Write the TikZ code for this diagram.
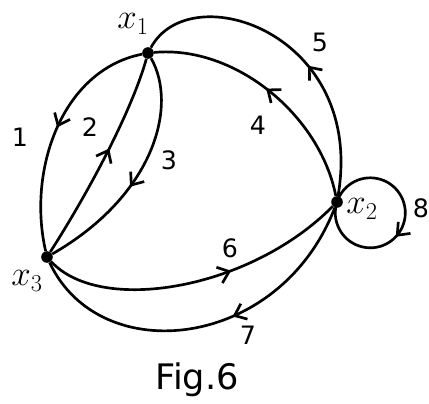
\documentclass[tikz,border=0pt]{standalone}
\usepackage{fontspec}
\setsansfont{DejaVu Sans}
\usetikzlibrary{arrows.meta, decorations.markings}

\begin{document}
\begin{tikzpicture}[
    x=0.025cm, y=0.025cm,
    vertex/.style={circle, fill=black, inner sep=0pt, minimum size=2.9mm},
    lbl/.style={font=\sffamily\fontsize{18}{20}\selectfont},
    vlbl/.style={font=\fontsize{27}{30}\selectfont},
    edge/.style={line width=1.9pt},
    midarrow/.style={postaction={decorate}, decoration={markings, mark=at position #1 with {\arrow{Straight Barb[length=2.6mm, width=4.2mm]}}}}
]
    \useasboundingbox (0,0) rectangle (429,403);

    \node[vertex] (x1) at (148,350) {};
    \node[vertex] (x2) at (337,201) {};
    \node[vertex] (x3) at (47,146) {};

    \node[vlbl] (l-x1) at (133,379) {$x_1$};
    \node[vlbl] (l-x2) at (362,194) {$x_2$};
    \node[vlbl] (l-x3) at (27,122) {$x_3$};

    \draw[edge, midarrow=0.48] (x1) .. controls (62,333) and (27,233) .. (x3);
    \draw[edge, midarrow=0.55] (x3) .. controls (90,213) and (132,293) .. (x1);
    \draw[edge, midarrow=0.57] (x1) .. controls (178,298) and (155,208) .. (x3);
    \draw[edge, midarrow=0.52] (x2) .. controls (320,288) and (235,358) .. (x1);
    \draw[edge, midarrow=0.43] (x2) .. controls (366,370) and (190,428) .. (x1);
    \draw[edge, midarrow=0.61] (x3) .. controls (100,88) and (250,113) .. (x2);
    \draw[edge, midarrow=0.42] (x2) .. controls (280,53) and (100,33) .. (x3);
    \draw[edge, midarrow=0.57] (x2.center) arc[start angle=162, end angle=-198, radius=35];

    \node[lbl] (l1) at (20,266) {1};
    \node[lbl] (l2) at (90,276) {2};
    \node[lbl] (l3) at (169,243) {3};
    \node[lbl] (l4) at (258,278) {4};
    \node[lbl] (l5) at (320,361) {5};
    \node[lbl] (l6) at (230,155) {6};
    \node[lbl] (l7) at (248,68) {7};
    \node[lbl] (l8) at (421,195) {8};

    \node[lbl, font=\sffamily\fontsize{25}{28}\selectfont] (fig) at (197,23) {Fig.6};
\end{tikzpicture}
\end{document}
